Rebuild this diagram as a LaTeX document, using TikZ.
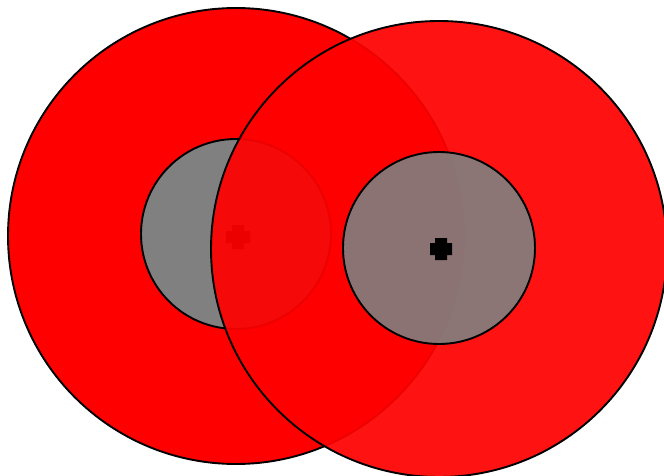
\documentclass[tikz,border=0pt]{standalone}
\begin{document}
\begin{tikzpicture}[x=1pt,y=-1pt,
  bigdisk/.style={draw=black,line width=1.9pt,fill=red},
  innerdisk/.style={draw=black,line width=1.9pt,fill={rgb,255:red,128;green,128;blue,128}},
  overlay/.style={fill opacity=0.93},
  inneroverlay/.style={fill opacity=0.9},
  crossmark/.style={fill=black,draw=none}]
\useasboundingbox (0,0) rectangle (664,476);
% left group
\node[bigdisk,circle,minimum size=456pt,inner sep=0pt] (L) at (236,236) {};
\node[innerdisk,circle,minimum size=190pt,inner sep=0pt] (Li) at (236,234) {};
\fill[crossmark] (226,231) -- (232,231) -- (232,225) -- (244,225) -- (244,231) -- (250,231) -- (250,243) -- (244,243) -- (244,249) -- (232,249) -- (232,243) -- (226,243) -- cycle;
% right group
\node[bigdisk,overlay,circle,minimum size=456pt,inner sep=0pt] (R) at (439,249) {};
\node[innerdisk,inneroverlay,circle,minimum size=192pt,inner sep=0pt] (Ri) at (439,248) {};
\fill[crossmark] (430,243) -- (435,243) -- (435,238) -- (447,238) -- (447,243) -- (452,243) -- (452,255) -- (447,255) -- (447,260) -- (435,260) -- (435,255) -- (430,255) -- cycle;
\end{tikzpicture}
\end{document}
